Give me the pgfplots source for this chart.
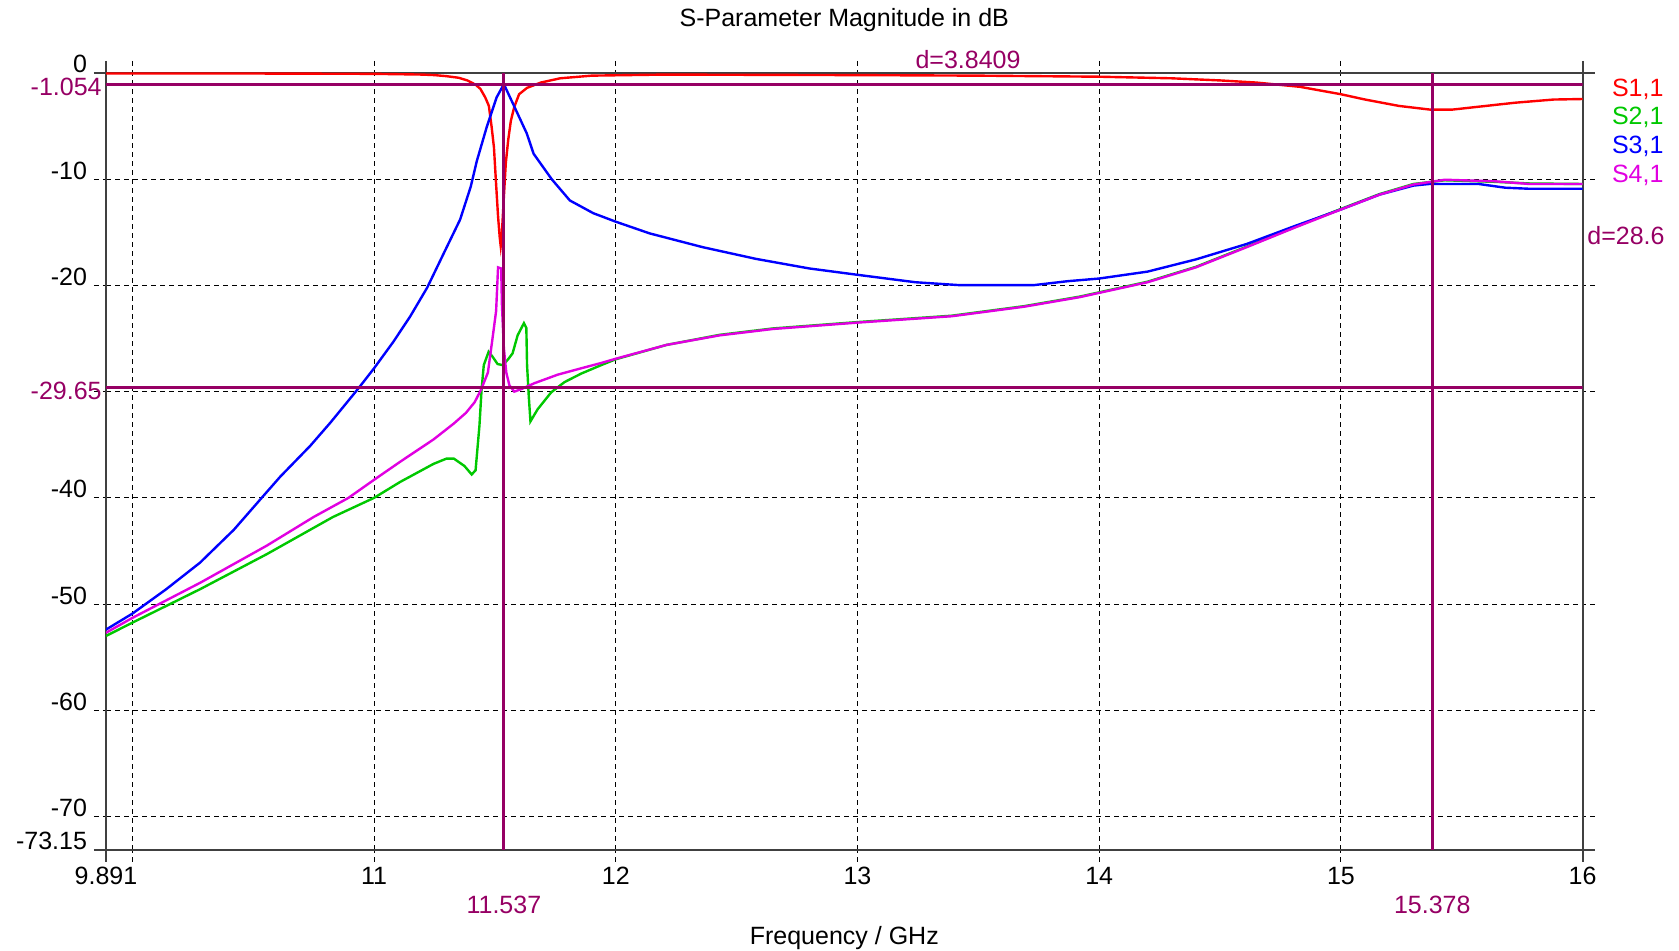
\documentclass[border=0pt]{standalone}
\usepackage{fontspec}
\setmainfont{Liberation Sans}
\usepackage{pgfplots}
\pgfplotsset{compat=1.18}
\definecolor{sred}{RGB}{255,0,0}
\definecolor{sgreen}{RGB}{0,200,0}
\definecolor{sblue}{RGB}{0,0,255}
\definecolor{smag}{RGB}{225,0,225}
\definecolor{mk}{RGB}{150,0,100}
\newcommand\lbl{\fontsize{12.5}{15}\selectfont}
\begin{document}
\begin{tikzpicture}
\useasboundingbox (-53pt,-50.5pt) rectangle (786.5pt,425pt);
\begin{axis}[
  at={(0,0)}, anchor=south west, scale only axis,
  width=738.3pt, height=388.5pt,
  xmin=9.891, xmax=16, ymin=-73.15, ymax=0,
  clip mode=individual,
  axis line style={black!75, line width=0.9pt},
  xtick={10,11,12,13,14,15}, xticklabels={,11,12,13,14,15},
  ytick={-70,-60,-50,-40,-30,-20,-10}, yticklabels={-70,-60,-50,-40,,-20,-10},
  extra x ticks={9.891,16}, extra x tick labels={9.891,16},
  extra y ticks={-73.15,0}, extra y tick labels={-73.15,0},
  extra x tick style={grid=none, tick style={solid, black!75, line width=0.9pt}},
  extra y tick style={grid=none, tick style={solid, black!75, line width=0.9pt}},
  grid=major, grid style={black, line width=0.5pt, dash pattern=on 2.5pt off 2pt},
  tick align=outside, major tick length=6pt,
  tick style={black, line width=0.5pt, dash pattern=on 2.5pt off 2pt},
  ticklabel style={font=\lbl},
  yticklabel style={anchor=base east},
  xticklabel style={anchor=base, yshift=-11.2pt},
  title={S-Parameter Magnitude in dB},
  title style={at={(axis description cs:0.5,1)}, anchor=center, yshift=20.65pt, font=\lbl},
  xlabel={Frequency / GHz},
  xlabel style={at={(axis description cs:0.5,0)}, anchor=center, yshift=-44pt, font=\lbl},
]
% S1,1
\addplot[sred, line width=1.2pt] coordinates {
(9.891,-0.05) (10.5,-0.05) (11.0,-0.08) (11.2,-0.15) (11.25,-0.2) (11.3,-0.3)
(11.35,-0.45) (11.386,-0.7) (11.42,-1.1) (11.44,-1.5) (11.46,-2.3) (11.475,-3.1)
(11.486,-5.0) (11.496,-7.0) (11.505,-10.5) (11.513,-13.5) (11.52,-15.5) (11.524,-16.3)
(11.528,-15.5) (11.535,-12.5) (11.545,-8.5) (11.555,-6.3) (11.566,-4.5) (11.58,-3.2)
(11.6,-2.0) (11.633,-1.4) (11.69,-0.9) (11.77,-0.5) (11.9,-0.25) (12.2,-0.15)
(13.0,-0.2) (13.5,-0.25) (14.0,-0.35) (14.3,-0.5) (14.5,-0.7) (14.65,-0.9)
(14.83,-1.3) (15.0,-2.0) (15.1,-2.5) (15.24,-3.1) (15.37,-3.45) (15.46,-3.45)
(15.58,-3.15) (15.72,-2.8) (15.88,-2.5) (16.0,-2.45)
};
% S2,1
\addplot[sgreen, line width=1.2pt] coordinates {
(9.891,-53.0) (10.0,-51.75) (10.28,-48.6) (10.556,-45.3) (10.83,-41.8) (11.0,-40.0)
(11.108,-38.5) (11.246,-36.8) (11.30,-36.3) (11.33,-36.3) (11.374,-37.0) (11.404,-37.8)
(11.42,-37.4) (11.436,-33.2) (11.445,-29.75) (11.454,-27.5) (11.474,-26.25) (11.49,-26.7)
(11.511,-27.4) (11.532,-27.5) (11.553,-27.0) (11.573,-26.4) (11.594,-24.7) (11.62,-23.55)
(11.63,-24.0) (11.633,-27.5) (11.64,-30.4) (11.647,-32.8) (11.677,-31.65) (11.733,-30.06)
(11.788,-29.1) (11.857,-28.3) (11.94,-27.5) (12.0,-26.95) (12.21,-25.6) (12.43,-24.65)
(12.65,-24.05) (13.0,-23.45) (13.39,-22.85) (13.69,-21.95) (13.92,-21.05) (14.0,-20.65)
(14.2,-19.65) (14.4,-18.25) (14.61,-16.35) (14.81,-14.5) (15.0,-12.8) (15.16,-11.4)
(15.3,-10.45) (15.43,-10.1) (15.64,-10.25) (15.78,-10.4) (16.0,-10.45)
};
% S3,1
\addplot[sblue, line width=1.2pt] coordinates {
(9.891,-52.4) (10.0,-50.9) (10.14,-48.6) (10.28,-46.1) (10.42,-43.0) (10.535,-40.0)
(10.612,-38.0) (10.736,-35.1) (10.82,-32.9) (10.935,-29.7) (11.0,-27.8) (11.08,-25.3)
(11.15,-22.9) (11.22,-20.2) (11.29,-16.9) (11.356,-13.8) (11.40,-10.7) (11.425,-8.3)
(11.466,-5.1) (11.507,-2.3) (11.537,-1.05) (11.577,-3.0) (11.632,-5.7) (11.66,-7.6)
(11.735,-10.0) (11.81,-12.0) (11.907,-13.2) (12.0,-14.0) (12.14,-15.1) (12.36,-16.4)
(12.58,-17.5) (12.8,-18.4) (13.0,-19.0) (13.24,-19.7) (13.42,-19.97) (13.73,-19.97)
(13.87,-19.6) (14.0,-19.35) (14.2,-18.7) (14.4,-17.55) (14.61,-16.1) (14.81,-14.4)
(15.0,-12.85) (15.16,-11.45) (15.3,-10.6) (15.365,-10.45) (15.57,-10.45) (15.68,-10.8)
(15.78,-10.9) (16.0,-10.9)
};
% S4,1
\addplot[smag, line width=1.2pt] coordinates {
(9.891,-52.7) (10.0,-51.3) (10.28,-48.0) (10.556,-44.5) (10.75,-41.8) (10.894,-40.0)
(11.0,-38.3) (11.108,-36.6) (11.246,-34.5) (11.33,-33.0) (11.38,-32.0) (11.416,-31.0)
(11.443,-29.8) (11.471,-28.2) (11.49,-25.0) (11.505,-22.4) (11.513,-18.3) (11.526,-18.4)
(11.529,-21.8) (11.537,-25.9) (11.547,-28.2) (11.56,-29.4) (11.58,-30.0) (11.61,-29.75)
(11.664,-29.2) (11.76,-28.4) (11.857,-27.8) (11.94,-27.3) (12.0,-26.9) (12.21,-25.6)
(12.43,-24.7) (12.65,-24.1) (13.0,-23.5) (13.39,-22.9) (13.69,-22.0) (13.92,-21.1)
(14.0,-20.7) (14.2,-19.7) (14.4,-18.3) (14.61,-16.4) (14.81,-14.55) (15.0,-12.85)
(15.16,-11.45) (15.3,-10.5) (15.43,-10.05) (15.64,-10.2) (15.78,-10.45) (16.0,-10.45)
};
% markers
\addplot[mk, line width=1.5pt] coordinates {(11.537,-73.15) (11.537,0)};
\addplot[mk, line width=1.5pt] coordinates {(15.378,-73.15) (15.378,0)};
\addplot[mk, line width=1.5pt] coordinates {(9.891,-1.054) (16,-1.054)};
\addplot[mk, line width=1.5pt] coordinates {(9.891,-29.65) (16,-29.65)};
% marker labels
\node[anchor=east, text=mk, font=\lbl, inner sep=0pt, xshift=-2pt, yshift=-1.5pt] at (axis cs:9.891,-1.054) {-1.054};
\node[anchor=east, text=mk, font=\lbl, inner sep=0pt, xshift=-2pt, yshift=-1.5pt] at (axis cs:9.891,-29.65) {-29.65};
\node[anchor=center, text=mk, font=\lbl, inner sep=0pt, yshift=-27.5pt] at (axis cs:11.537,-73.15) {11.537};
\node[anchor=center, text=mk, font=\lbl, inner sep=0pt, yshift=-27.5pt] at (axis cs:15.378,-73.15) {15.378};
\node[anchor=center, text=mk, font=\lbl, inner sep=0pt, yshift=6.8pt] at (axis cs:13.4575,0) {d=3.8409};
\node[anchor=west, text=mk, font=\lbl, inner sep=0pt, xshift=2.2pt] at (axis cs:16,-15.35) {d=28.6};
% legend
\node[anchor=west, text=sred, font=\lbl, inner sep=0pt, xshift=14.5pt] at (axis cs:16,-1.54) {S1,1};
\node[anchor=west, text=sgreen, font=\lbl, inner sep=0pt, xshift=14.5pt] at (axis cs:16,-4.15) {S2,1};
\node[anchor=west, text=sblue, font=\lbl, inner sep=0pt, xshift=14.5pt] at (axis cs:16,-6.87) {S3,1};
\node[anchor=west, text=smag, font=\lbl, inner sep=0pt, xshift=14.5pt] at (axis cs:16,-9.6) {S4,1};
\end{axis}
\end{tikzpicture}
\end{document}
